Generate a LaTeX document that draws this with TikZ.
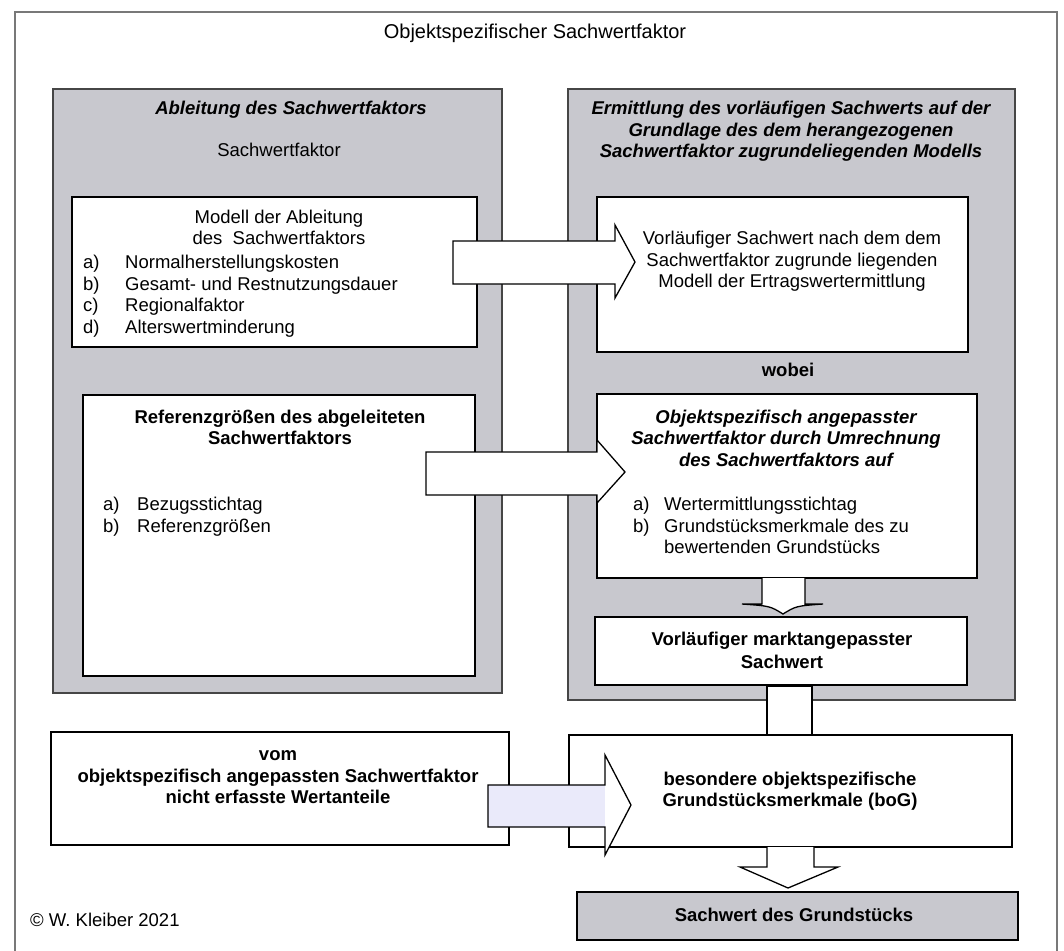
\documentclass[tikz,border=0pt]{standalone}
\usepackage{fontspec}
\setmainfont{Liberation Sans}
\definecolor{boxgray}{RGB}{200,200,206}
\definecolor{bordergray}{RGB}{70,70,70}
\definecolor{framegray}{RGB}{120,120,120}
\definecolor{lav}{RGB}{234,234,250}
\begin{document}
\begin{tikzpicture}[x=1pt,y=-1pt,
  every node/.style={inner sep=0pt, font=\fontsize{18.5}{21.5}\selectfont},
  graybox/.style={draw=bordergray, line width=1.8pt, fill=boxgray},
  whitebox/.style={draw=black, line width=1.8pt, fill=white},
  blockarrow/.style={draw=black, line width=1.3pt, fill=white, line join=miter},
  hd/.style={font=\fontsize{18.5}{21.5}\selectfont\bfseries\itshape, align=center},
  bd/.style={font=\fontsize{18.5}{21.5}\selectfont\bfseries, align=center},
  txt/.style={align=center},
  item/.style={anchor=base west}]
\useasboundingbox (0,0) rectangle (1064,950);
\clip (0,0) rectangle (1064,950);
\fill[white] (0,0) rectangle (1064,950);
% outer frame
\node[draw=framegray, line width=1.6pt, minimum width=1042, minimum height=960] (frame) at (536,492) {};
\node[font=\fontsize{20}{24}\selectfont] (title) at (535,33) {Objektspezifischer Sachwertfaktor};

% gray panels
\node[graybox, minimum width=449, minimum height=604] (L) at (277.5,391) {};
\node[graybox, minimum width=447, minimum height=611] (R) at (791.5,394.5) {};

% left panel
\node[hd] (Lhead) at (291,110) {Ableitung des Sachwertfaktors};
\node (Lsub) at (279,150) {Sachwertfaktor};
\node[whitebox, minimum width=405, minimum height=150] (modell) at (274.5,272) {};
\node[txt] (modellT) at (279,227.5) {Modell der Ableitung\\des\ \ Sachwertfaktors};
\node[item] (ma) at (83,268.5) {a)};
\node[item] (mat) at (125,268.5) {Normalherstellungskosten};
\node[item] (mb) at (83,290) {b)};
\node[item] (mbt) at (125,290) {Gesamt- und Restnutzungsdauer};
\node[item] (mc) at (83,311.5) {c)};
\node[item] (mct) at (125,311.5) {Regionalfaktor};
\node[item] (md) at (83,333) {d)};
\node[item] (mdt) at (125,333) {Alterswertminderung};

\node[whitebox, minimum width=392, minimum height=281] (ref) at (279,535.5) {};
\node[bd] (refT) at (280,427.5) {Referenzgrößen des abgeleiteten\\Sachwertfaktors};
\node[item] (ra) at (103,510.5) {a)};
\node[item] (rat) at (137,510.5) {Bezugsstichtag};
\node[item] (rb) at (103,532) {b)};
\node[item] (rbt) at (137,532) {Referenzgrößen};

% right panel
\node[hd] (Rhead) at (791,131.5) {Ermittlung des vorläufigen Sachwerts auf der\\Grundlage des dem herangezogenen\\Sachwertfaktor zugrundeliegenden Modells};
\node[whitebox, minimum width=371, minimum height=155] (v1) at (782.5,274.5) {};
\node[txt] (v1T) at (792,261.5) {Vorläufiger Sachwert nach dem dem\\Sachwertfaktor zugrunde liegenden\\Modell der Ertragswertermittlung};
\node[bd] (wobei) at (788,370) {wobei};

\node[whitebox, minimum width=380, minimum height=184] (obj) at (787,486) {};
\node[hd] (objT) at (786,438) {Objektspezifisch angepasster\\Sachwertfaktor durch Umrechnung\\des Sachwertfaktors auf};
\node[item] (oa) at (633,510.5) {a)};
\node[item] (oat) at (664,510.5) {Wertermittlungsstichtag};
\node[item] (ob) at (633,532) {b)};
\node[item] (obt) at (664,532) {Grundstücksmerkmale des zu};
\node[item] (obt2) at (664,553.5) {bewertenden Grundstücks};

\node[whitebox, minimum width=372, minimum height=68] (mkt) at (781,651) {};
\node[bd] (mktT) at (782,650.5) {Vorläufiger marktangepasster\\[2pt]Sachwert};

% connector from mkt to boG (plain bar)
\draw[blockarrow] ([xshift=-14pt]mkt.south) rectangle ([xshift=31pt]mkt.south |- 0,735);

% bottom row
\node[whitebox, minimum width=458, minimum height=113] (vom) at (280,788.5) {};
\node[bd] (vomT) at (278,777.5) {vom\\objektspezifisch angepassten Sachwertfaktor\\nicht erfasste Wertanteile};
\node[whitebox, minimum width=443, minimum height=112] (bog) at (790.5,791) {};
\node[bd] (bogT) at (790,791) {besondere objektspezifische\\Grundstücksmerkmale (boG)};
\node[draw=black, line width=1.8pt, fill=boxgray, minimum width=441, minimum height=48] (sw) at (797.5,916) {};
\node[bd] (swT) at (794,915) {Sachwert des Grundstücks};
\node[anchor=west] (copy) at (30,920) {© W. Kleiber 2021};

% block arrows
\draw[blockarrow] (453,241) -- (615,241) -- (615,225) -- (635,262) -- (615,298) -- (615,284) -- (453,284) -- cycle;
\draw[blockarrow] (426,452) -- (597,452) -- (597,440) -- (625,472) -- (597,503) -- (597,495) -- (426,495) -- cycle;
\fill[lav] (488,785) rectangle (605,827);
\fill[white] (605,755) -- (631,805) -- (605,855) -- cycle;
\draw[blockarrow, fill=none] (488,785) -- (605,785) -- (605,755) -- (631,805) -- (605,855) -- (605,827) -- (488,827) -- cycle;
% down arrow obj -> mkt
\draw[blockarrow] (762,578) -- (762,604) -- (742,604) .. controls (770,606) .. (783,614) .. controls (796,606) .. (823,604) -- (805,604) -- (805,578);
% down arrow bog -> sw
\draw[blockarrow] (767,847) -- (767,867) -- (740,867) -- (788,888) -- (838,867) -- (814,867) -- (814,847);
\end{tikzpicture}
\end{document}
